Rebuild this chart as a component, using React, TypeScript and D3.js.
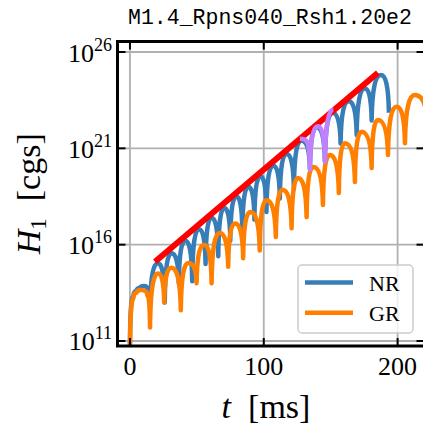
import React from "react";
import * as d3 from "d3";

const titleText = "M1.4_Rpns040_Rsh1.20e2";
const xTicks = [0, 100, 200];
const yTickExps = [11, 16, 21, 26];
const legendLabels = ["NR", "GR"];

// NR series: time [ms], log10(H1)
const nrT = [0, 2.5, 5, 7.5, 10.5, 13, 15.2, 21, 26, 31, 36.5, 41.5, 46.5, 51.5, 56.5, 61, 66, 70.5, 75, 79.5, 84, 88.5, 93, 97.5, 102, 107, 112, 117, 122.5, 128, 134.5, 139.5, 145.7, 151.5, 157.4, 163.5, 169.4, 175.5, 180.6, 187.5, 193.5];
const nrV = [10.8, 13.3, 13.6, 13.75, 13.85, 13.7, 12.9, 15.03, 13.0, 15.55, 14.0, 16.2, 14.1, 16.8, 15.0, 17.4, 15.4, 17.9, 16.2, 18.5, 16.7, 19.0, 17.3, 19.55, 17.7, 20.1, 18.4, 20.7, 18.9, 21.4, 19.9, 22.1, 20.3, 22.85, 21.25, 23.45, 21.7, 24.1, 22.45, 24.8, 22.85];

// GR series
const grT = [0, 2.5, 5, 8, 11, 13, 15, 21, 25.6, 31, 38, 43.6, 49.8, 55.5, 61, 67, 73.4, 78.5, 84.6, 90, 97, 102, 109, 114, 120.8, 125.5, 132, 137, 144.2, 149.4, 156.1, 160.6, 168.1, 173.1, 180.6, 185.3, 192.8, 199.3, 205.5, 212.9, 222];
const grV = [10.3, 13.2, 13.5, 13.65, 13.6, 13.35, 11.7, 14.5, 13.0, 14.8, 12.6, 15.05, 14.0, 16.0, 14.0, 16.6, 14.85, 17.1, 15.3, 17.7, 15.7, 18.3, 16.4, 18.85, 16.85, 19.46, 17.43, 20.03, 18.06, 20.65, 18.68, 21.27, 19.25, 21.86, 19.98, 22.47, 20.65, 23.16, 21.27, 23.77, 22.3];

// growth fit (red)
const fitT = [18.7, 185.3];
const fitV = [15.11, 24.92];

// highlighted window (purple)
const hlT = [127, 131, 134.5, 140.5, 145.7, 152];
const hlV = [21.5, 21.42, 19.9, 22.15, 20.3, 23.0];

const W = 423;
const H = 429;
const L = 117.5, R = 424.5, T = 41.5, B = 346;

const x = d3.scaleLinear().domain([-9.3, 220.1]).range([L, R]);
const y = d3.scaleLog().domain([Math.pow(10, 10.74), Math.pow(10, 26.545)]).range([B, T]);

// arch-shaped curve: vertical tangents at troughs, flat at peaks
function archCurve(context: any) {
  let x0 = 0, y0 = 0, n = 0;
  return {
    areaStart() {},
    areaEnd() {},
    lineStart() { n = 0; },
    lineEnd() {},
    point(px: number, py: number) {
      px = +px; py = +py;
      if (n === 0) context.moveTo(px, py);
      else {
        const dx = px - x0;
        if (py < y0) {
          context.bezierCurveTo(x0 + 0.06 * dx, y0 + 0.75 * (py - y0), x0 + 0.45 * dx, py, px, py);
        } else {
          context.bezierCurveTo(x0 + 0.55 * dx, y0, px - 0.06 * dx, y0 + 0.25 * (py - y0), px, py);
        }
      }
      x0 = px; y0 = py; n++;
    },
  };
}

const pts = (ts: number[], vs: number[]) => ts.map((t, i) => [t, Math.pow(10, vs[i])] as [number, number]);

const archLine = d3.line<[number, number]>().x(d => x(d[0])).y(d => y(d[1])).curve(archCurve as any);
const straight = d3.line<[number, number]>().x(d => x(d[0])).y(d => y(d[1]));

const C_NR = "#377eb8";
const C_GR = "#ff7f00";
const serif = "'Liberation Serif', 'DejaVu Serif', serif";

export default function App() {
  return (
    <svg width={W} height={H} style={{ position: "absolute", left: 0, top: 0, background: "#fff" }}>
      <defs>
        <clipPath id="plot">
          <rect x={L} y={T} width={R - L} height={B - T} />
        </clipPath>
      </defs>
      <rect x={0} y={0} width={W} height={H} fill="#fff" />
      {/* grid */}
      <g stroke="#b0b0b0" strokeWidth={1.8}>
        {xTicks.map(t => (
          <line key={"gx" + t} x1={x(t)} x2={x(t)} y1={T} y2={B} />
        ))}
        {yTickExps.map(e => (
          <line key={"gy" + e} x1={L} x2={R} y1={y(Math.pow(10, e))} y2={y(Math.pow(10, e))} />
        ))}
      </g>
      <g clipPath="url(#plot)" fill="none" strokeLinejoin="round" strokeLinecap="butt">
        <path d={archLine(pts(nrT, nrV)) || ""} stroke={C_NR} strokeWidth={4.5} />
        <path d={archLine(pts(grT, grV)) || ""} stroke={C_GR} strokeWidth={4.5} />
        <path d={straight(pts(fitT, fitV)) || ""} stroke="#ff0000" strokeWidth={6} />
        <path d={archLine(pts(hlT, hlV)) || ""} stroke="#c080ff" strokeWidth={4.5} />
      </g>
      {/* ticks */}
      <g stroke="#000" strokeWidth={2}>
        {xTicks.map(t => (
          <g key={"tx" + t}>
            <line x1={x(t)} x2={x(t)} y1={B} y2={B - 8} />
            <line x1={x(t)} x2={x(t)} y1={T} y2={T + 8} />
          </g>
        ))}
        {yTickExps.map(e => (
          <g key={"ty" + e}>
            <line x1={L} x2={L + 8} y1={y(Math.pow(10, e))} y2={y(Math.pow(10, e))} />
            <line x1={R} x2={R - 8} y1={y(Math.pow(10, e))} y2={y(Math.pow(10, e))} />
          </g>
        ))}
      </g>
      {/* spines */}
      <rect x={L} y={T} width={R - L} height={B - T} fill="none" stroke="#000" strokeWidth={3} />
      {/* tick labels */}
      <g fontFamily={serif} fill="#000">
        {xTicks.map(t => (
          <text key={"lx" + t} x={x(t)} y={375} fontSize={26} textAnchor="middle">{t}</text>
        ))}
        {yTickExps.map(e => (
          <text key={"ly" + e} x={112} y={y(Math.pow(10, e)) + 9.5} fontSize={26} textAnchor="end">
            10<tspan fontSize={18} dy={-11}>{e}</tspan>
          </text>
        ))}
      </g>
      {/* axis labels */}
      <text x={266} y={418} fontFamily={serif} fontSize={34} textAnchor="middle">
        <tspan fontStyle="italic">t</tspan>{"\u2002[ms]"}
      </text>
      <text transform={`translate(40,${(T + B) / 2}) rotate(-90)`} fontFamily={serif} fontSize={34} textAnchor="middle">
        <tspan fontStyle="italic">H</tspan>
        <tspan fontSize={23} dy={6}>1</tspan>
        <tspan dy={-6}>{"\u2002[cgs]"}</tspan>
      </text>
      {/* title */}
      <text x={270} y={24} fontFamily="'Liberation Mono', 'DejaVu Sans Mono', monospace" fontSize={21.5} textAnchor="middle">
        {titleText}
      </text>
      {/* legend */}
      <g>
        <rect x={298} y={265} width={115} height={68} rx={4} fill="#fff" fillOpacity={0.8} stroke="#cccccc" strokeWidth={1.5} />
        {legendLabels.map((lab, i) => (
          <g key={lab}>
            <line x1={305} x2={353} y1={282.5 + i * 30.3} y2={282.5 + i * 30.3} stroke={i === 0 ? C_NR : C_GR} strokeWidth={4.5} />
            <text x={369} y={291 + i * 30.3} fontFamily={serif} fontSize={22}>{lab}</text>
          </g>
        ))}
      </g>
    </svg>
  );
}
